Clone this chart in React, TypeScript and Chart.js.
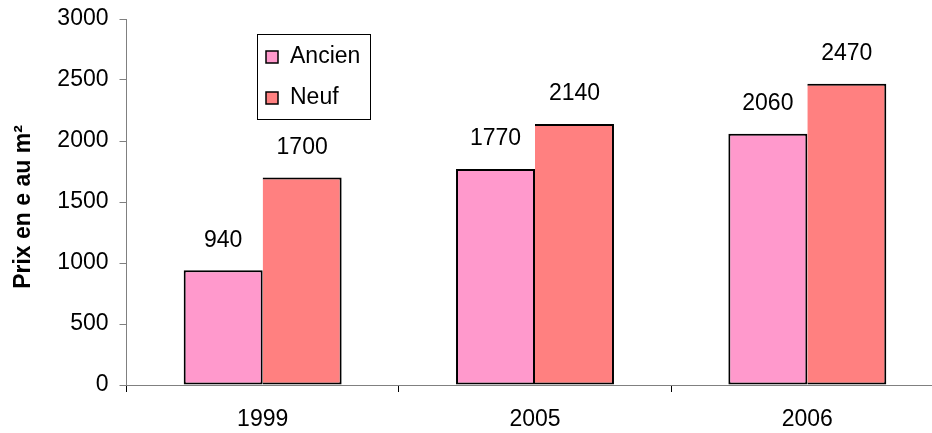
import React, { useEffect, useRef } from "react";
import { Chart, registerables } from "chart.js";

Chart.register(...registerables);

const categories = ["1999", "2005", "2006"];
const ancien = [940, 1770, 2060];
const neuf = [1700, 2140, 2470];
const seriesNames = ["Ancien", "Neuf"];
const yTitle = "Prix en e au m²";

const FONT = "Arial, 'Liberation Sans', sans-serif";

const valueLabels = {
  id: "valueLabels",
  afterDatasetsDraw(chart: any) {
    const ctx = chart.ctx;
    ctx.save();
    ctx.font = `23px ${FONT}`;
    ctx.fillStyle = "#000";
    ctx.textAlign = "center";
    ctx.textBaseline = "middle";
    chart.data.datasets.forEach((ds: any, i: number) => {
      const meta = chart.getDatasetMeta(i);
      meta.data.forEach((bar: any, j: number) => {
        ctx.fillText(String(ds.data[j]), bar.x, bar.y - 30);
      });
    });
    ctx.restore();
  },
};

const yTitlePlugin = {
  id: "yTitlePlugin",
  afterDraw(chart: any) {
    const ctx = chart.ctx;
    ctx.save();
    ctx.translate(24, 207);
    ctx.rotate(-Math.PI / 2);
    ctx.font = `bold 23px ${FONT}`;
    ctx.fillStyle = "#000";
    ctx.textAlign = "center";
    ctx.textBaseline = "middle";
    ctx.fillText(yTitle, 0, 0);
    ctx.restore();
  },
};

const boxLegend = {
  id: "boxLegend",
  afterDraw(chart: any) {
    const ctx = chart.ctx;
    ctx.save();
    const x0 = 257, y0 = 34, w = 113, h = 85;
    ctx.fillStyle = "#fff";
    ctx.fillRect(x0, y0, w, h);
    ctx.strokeStyle = "#000";
    ctx.lineWidth = 1;
    ctx.strokeRect(x0 + 0.5, y0 + 0.5, w, h);
    ctx.font = `23px ${FONT}`;
    ctx.textBaseline = "middle";
    ctx.textAlign = "left";
    const ys = [57, 98];
    chart.data.datasets.forEach((ds: any, i: number) => {
      const cy = ys[i];
      ctx.fillStyle = ds.backgroundColor;
      ctx.fillRect(266, cy - 6, 12, 12);
      ctx.strokeStyle = "#000";
      ctx.lineWidth = 1.5;
      ctx.strokeRect(266, cy - 6, 12, 12);
      ctx.fillStyle = "#000";
      ctx.fillText(ds.label, 290, cy);
    });
    ctx.restore();
  },
};

export default function App() {
  const ref = useRef<HTMLCanvasElement>(null);
  useEffect(() => {
    document.body.style.margin = "0";
    const chart = new Chart(ref.current!, {
      type: "bar",
      data: {
        labels: categories,
        datasets: [
          {
            label: seriesNames[0],
            data: ancien,
            backgroundColor: "#FF99CC",
            borderColor: "#000",
            borderWidth: { left: 2, right: 2, top: 2, bottom: 2 },
            borderSkipped: false,
            categoryPercentage: 0.58,
            barPercentage: 1,
          },
          {
            label: seriesNames[1],
            data: neuf,
            backgroundColor: "#FF8080",
            borderColor: "#000",
            borderWidth: { left: 0, right: 2, top: 2, bottom: 2 },
            borderSkipped: false,
            categoryPercentage: 0.58,
            barPercentage: 1,
          },
        ],
      },
      options: {
        responsive: false,
        animation: false,
        layout: { padding: { left: 0, top: 19, right: 16.5, bottom: 0 } },
        plugins: { legend: { display: false }, tooltip: { enabled: false } },
        scales: {
          x: {
            afterFit(s: any) { s.height = 48; s.paddingLeft = 0; s.paddingRight = 0; },
            grid: { display: true, drawOnChartArea: false, tickLength: 7, color: "#000", offset: true },
            border: { color: "#808080", width: 1 },
            ticks: { font: { size: 23, family: FONT }, color: "#000", padding: 14 },
          },
          y: {
            min: 0,
            max: 3000,
            afterFit(s: any) { s.width = 126.5; s.paddingTop = 0; s.paddingBottom = 0; },
            grid: { display: true, drawOnChartArea: false, tickLength: 7, color: "#808080" },
            border: { color: "#808080", width: 1 },
            ticks: {
              stepSize: 500,
              font: { size: 23, family: FONT },
              color: "#000",
              padding: 11,
              callback: (v: any) => String(v),
            },
          },
        },
      },
      plugins: [valueLabels, boxLegend, yTitlePlugin],
    });
    return () => chart.destroy();
  }, []);
  return (
    <div style={{ position: "absolute", left: 0, top: 0, width: 932, height: 433, overflow: "hidden", background: "#fff" }}>
      <canvas ref={ref} width={960} height={433} />
    </div>
  );
}
